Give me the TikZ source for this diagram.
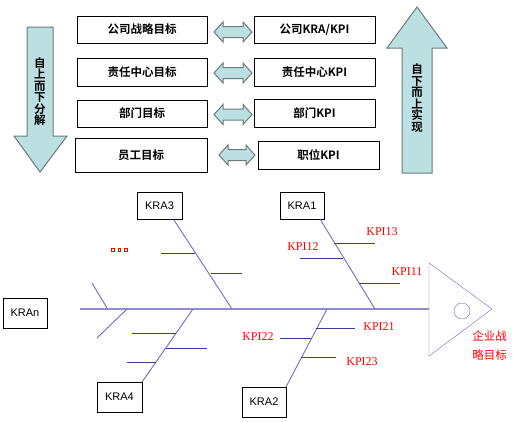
\documentclass[tikz,border=0pt]{standalone}
\usepackage{fontspec}
\setmainfont{Liberation Sans}
\newfontfamily\cjkb[BoldFont={Noto Sans CJK SC Bold}]{Noto Sans CJK SC}
\newfontfamily\cjkr{Noto Sans CJK SC}
\newfontfamily\tms{Liberation Serif}
\definecolor{arrfill}{HTML}{BCE0E2}
\definecolor{arrline}{HTML}{6B7B7F}
\definecolor{bone}{HTML}{6E6EC0}
\definecolor{spine}{HTML}{9090CC}
\definecolor{kpiline}{HTML}{3A3A9C}
\tikzset{
  x=1pt, y=-1pt,
  topbox/.style={draw=black, line width=0.9pt, inner sep=0pt, font=\cjkb\bfseries\fontsize{11.5}{12}\selectfont},
  krabox/.style={draw=black, line width=0.9pt, inner sep=0pt, font=\fontsize{11}{12}\selectfont},
  blockarrow/.style={draw=arrline, fill=arrfill, line width=1pt, line join=miter},
  bonestyle/.style={draw=bone, line width=0.9pt},
  kpistyle/.style={draw=kpiline, line width=0.9pt},
  kpilabel/.style={text=red, font=\tms\fontsize{12}{12}\selectfont, inner sep=0pt},
  vtext/.style={align=center, font=\cjkb\bfseries\fontsize{11.5}{11.5}\selectfont, inner sep=0pt}
}
\newcommand{\dblarr}[3]{%
  \path[blockarrow] (#1,#3) -- (#1+9,#3-10) -- (#1+9,#3-5.5) -- (#2-9,#3-5.5) -- (#2-9,#3-10) -- (#2,#3)
   -- (#2-9,#3+10) -- (#2-9,#3+5.5) -- (#1+9,#3+5.5) -- (#1+9,#3+10) -- cycle;}
\begin{document}
\begin{tikzpicture}
\useasboundingbox[fill=white] (0,0) rectangle (514,421);

% big block arrows
\path[blockarrow] (27,27) -- (53,27) -- (53,136) -- (67,136) -- (40,172) -- (14,136) -- (27,136) -- cycle;
\node[vtext] (down) at (40,91.5) {自\\上\\而\\下\\分\\解};
\path[blockarrow] (417,7) -- (447,48) -- (432,48) -- (432,173) -- (402,173) -- (402,48) -- (387,48) -- cycle;
\node[vtext] (up) at (417,98) {自\\下\\而\\上\\实\\现};

% top boxes
\node[topbox, minimum width=130pt, minimum height=27pt] (g1) at (142,29.5) {公司战略目标};
\node[topbox, minimum width=130pt, minimum height=28pt] (g2) at (142,72) {责任中心目标};
\node[topbox, minimum width=130pt, minimum height=27pt] (g3) at (142,113.5) {部门目标};
\node[topbox, minimum width=132pt, minimum height=34pt] (g4) at (141,155) {员工目标};
\node[topbox, minimum width=121pt, minimum height=27pt] (k1) at (314.5,29.5) {公司KRA/KPI};
\node[topbox, minimum width=121pt, minimum height=28pt] (k2) at (314.5,72) {责任中心KPI};
\node[topbox, minimum width=121pt, minimum height=28pt] (k3) at (314.5,113) {部门KPI};
\node[topbox, minimum width=121pt, minimum height=28pt] (k4) at (318.5,155) {职位KPI};

% double arrows
\dblarr{214}{252}{32}
\dblarr{214}{252}{73}
\dblarr{214}{252}{114.5}
\dblarr{219}{255}{155}

% fishbone boxes
\node[krabox, minimum width=44pt, minimum height=27pt] (kra1) at (302,205.5) {KRA1};
\node[krabox, minimum width=44pt, minimum height=30pt] (kra2) at (264,402) {KRA2};
\node[krabox, minimum width=45pt, minimum height=27pt] (kra3) at (159.5,205.5) {KRA3};
\node[krabox, minimum width=45pt, minimum height=30pt] (kra4) at (119.5,397) {KRA4};
\node[krabox, minimum width=44pt, minimum height=30pt] (kran) at (25,313) {KRAn};

% spine
\coordinate (sp0) at (80,309);
\coordinate (spm) at (197,309);
\coordinate (sp1) at (429,309);
\draw[spine, line width=1.2pt] (sp0) -- (spm);
\draw[spine, line width=1.9pt] (spm) -- (sp1);

% head
\draw[bone] (429,263) -- (492,309) -- (429,356) -- cycle;
\draw[bone] (462,311) circle (8);
\node[text=red, font=\cjkr\fontsize{11.5}{19}\selectfont, align=center, inner sep=0pt] (goal) at (489.5,345.5) {企业战\\略目标};

% KRA1
\coordinate (b1s) at (320,219); \coordinate (b1e) at (375,309);
\draw[bonestyle] (b1s) -- (b1e);
\coordinate (a13) at (334,243); \coordinate (e13) at (375,243);
\draw[kpistyle] (a13) -- (e13);
\coordinate (a12) at (300,258); \coordinate (e12) at (343,258);
\draw[kpistyle] (a12) -- (e12);
\coordinate (a11) at (359,283); \coordinate (e11) at (400,283);
\draw[kpistyle] (a11) -- (e11);
\node[kpilabel] (l13) at (382,232) {KPI13};
\node[kpilabel] (l12) at (303,247) {KPI12};
\node[kpilabel] (l11) at (407,272) {KPI11};

% KRA2
\coordinate (b2s) at (286,387); \coordinate (b2e) at (327,309);
\draw[bonestyle] (b2s) -- (b2e);
\coordinate (a21) at (316,328); \coordinate (e21) at (355,328);
\draw[kpistyle] (a21) -- (e21);
\coordinate (a22) at (280,338); \coordinate (e22) at (311,338);
\draw[kpistyle] (a22) -- (e22);
\coordinate (a23) at (301,357); \coordinate (e23) at (336,357);
\draw[kpistyle] (a23) -- (e23);
\node[kpilabel] (l21) at (379,327) {KPI21};
\node[kpilabel] (l22) at (258,337) {KPI22};
\node[kpilabel] (l23) at (362,362) {KPI23};

% KRA3
\coordinate (b3s) at (174,220); \coordinate (b3e) at (232,309);
\draw[bonestyle] (b3s) -- (b3e);
\coordinate (a31) at (161,253); \coordinate (e31) at (195,253);
\draw[kpistyle] (a31) -- (e31);
\coordinate (a32) at (211,273); \coordinate (e32) at (242,273);
\draw[kpistyle] (a32) -- (e32);

% KRA4
\coordinate (b4s) at (142,382); \coordinate (b4e) at (193,309);
\draw[bonestyle] (b4s) -- (b4e);
\coordinate (a41) at (132,333); \coordinate (e41) at (176,333);
\draw[kpistyle] (a41) -- (e41);
\coordinate (a42) at (166,348); \coordinate (e42) at (207,348);
\draw[kpistyle] (a42) -- (e42);
\coordinate (a43) at (127,362); \coordinate (e43) at (156,362);
\draw[kpistyle] (a43) -- (e43);

% small left bones
\coordinate (s1a) at (92,283); \coordinate (s1b) at (107,308);
\draw[bonestyle] (s1a) -- (s1b);
\coordinate (s2a) at (127,309); \coordinate (s2b) at (97,338);
\draw[bonestyle] (s2a) -- (s2b);

% dots
\foreach \xx in {113,119.5,126} \draw[red, line width=0.8pt] (\xx-1.2,248.8) rectangle (\xx+1.2,251.2);
\end{tikzpicture}
\end{document}
